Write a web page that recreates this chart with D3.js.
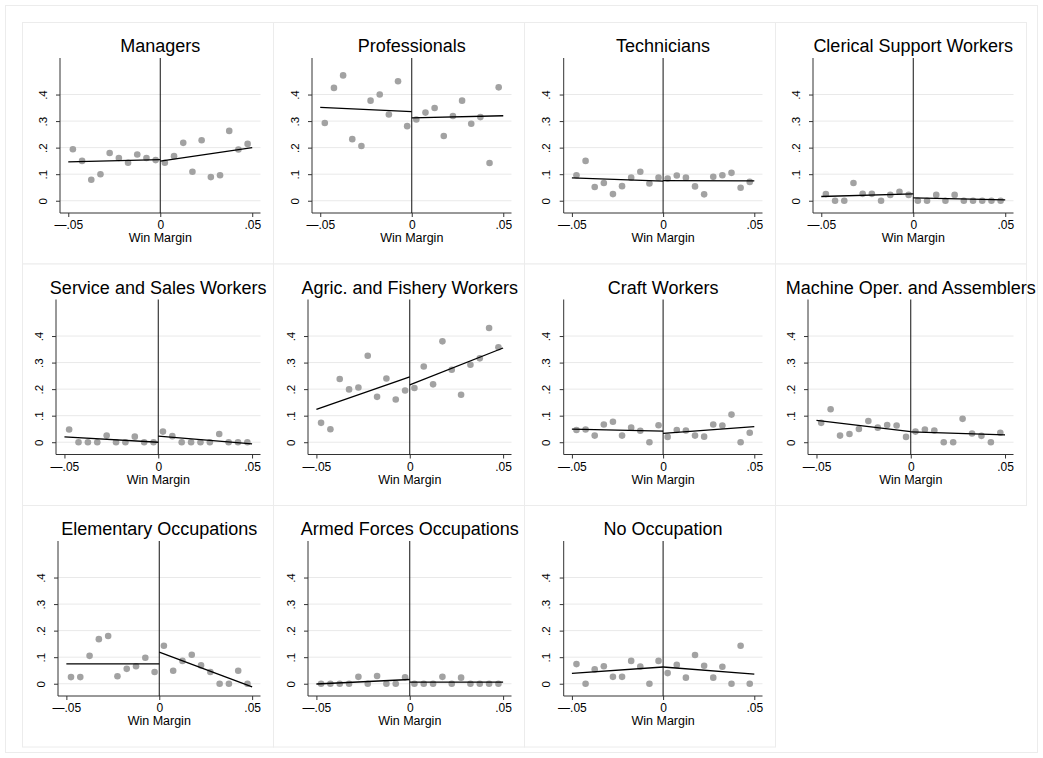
<!DOCTYPE html>
<html>
<head>
<meta charset="utf-8">
<script src="https://d3js.org/d3.v7.min.js"></script>
<style>
  body { margin: 0; background: #fff; }
  text { font-family: "Liberation Sans", Arial, sans-serif; fill: #000; }
</style>
</head>
<body>
<svg id="chart"></svg>
<script>
// bin centres of the win margin (same for every panel)
var bins = [-0.0475,-0.0425,-0.0375,-0.0325,-0.0275,-0.0225,-0.0175,-0.0125,-0.0075,-0.0025,
            0.0025,0.0075,0.0125,0.0175,0.0225,0.0275,0.0325,0.0375,0.0425,0.0475];

var titles = ["Managers","Professionals","Technicians","Clerical Support Workers",
              "Service and Sales Workers","Agric. and Fishery Workers","Craft Workers","Machine Oper. and Assemblers",
              "Elementary Occupations","Armed Forces Occupations","No Occupation"];

// binned means, one list per occupation
var managers      = [0.194,0.150,0.079,0.100,0.180,0.161,0.143,0.174,0.161,0.153, 0.143,0.168,0.218,0.109,0.228,0.089,0.096,0.263,0.193,0.214];
var professionals = [0.293,0.425,0.472,0.232,0.206,0.377,0.400,0.325,0.450,0.281, 0.306,0.332,0.349,0.244,0.319,0.377,0.290,0.315,0.142,0.427];
var technicians   = [0.096,0.150,0.052,0.067,0.025,0.055,0.087,0.109,0.065,0.087, 0.084,0.095,0.087,0.054,0.024,0.090,0.096,0.105,0.049,0.071];
var clerical      = [0.025,0,0,0.067,0.026,0.026,0,0.022,0.034,0.022, 0,0,0.022,0,0.022,0,0,0,0,0];
var service       = [0.048,0,0,0,0.025,0,0,0.021,0,0, 0.040,0.023,0,0,0,0,0.031,0,0,0];
var agric         = [0.073,0.049,0.238,0.199,0.206,0.326,0.171,0.240,0.161,0.195, 0.204,0.285,0.218,0.380,0.273,0.179,0.292,0.316,0.430,0.358];
var craft         = [0.046,0.048,0.025,0.067,0.077,0.025,0.055,0.043,0,0.064, 0.020,0.046,0.044,0.025,0.021,0.067,0.063,0.104,0,0.036];
var machine       = [0.073,0.124,0.025,0.031,0.050,0.080,0.055,0.065,0.063,0.020, 0.040,0.048,0.044,0,0,0.088,0.033,0.024,0,0.036];
var elementary    = [0.025,0.025,0.105,0.168,0.180,0.028,0.056,0.066,0.098,0.044, 0.143,0.049,0.086,0.109,0.069,0.044,0,0,0.049,0];
var armed         = [0,0,0,0,0.026,0,0.029,0,0,0.024, 0,0,0,0.026,0,0.023,0,0,0,0];
var noOcc         = [0.074,0,0.054,0.066,0.026,0.026,0.086,0.065,0,0.086, 0.040,0.071,0.023,0.108,0.068,0.023,0.064,0,0.143,0];
var series = [managers,professionals,technicians,clerical,service,agric,craft,machine,elementary,armed,noOcc];

// linear fits either side of the cutoff: [y at -.05, y at 0, y at 0 (right), y at .05]
var fits = [[0.146,0.155,0.149,0.200],[0.352,0.336,0.312,0.320],[0.086,0.074,0.076,0.075],[0.016,0.026,0.011,0.003],
            [0.020,0.000,0.023,-0.006],[0.124,0.246,0.216,0.355],[0.049,0.042,0.033,0.059],[0.082,0.040,0.039,0.028],
            [0.075,0.075,0.119,-0.012],[-0.001,0.016,0.006,0.006],[0.039,0.063,0.063,0.036]];

var xTicks = [-0.05, 0, 0.05];
var xTickLabels = ["\u2014.05", "0", ".05"];
var yTicks = [0, 0.1, 0.2, 0.3, 0.4];
var yTickLabels = ["0", ".1", ".2", ".3", ".4"];

// layout
var W = 1043, H = 758;
var cellW = 251, cellH = 241.5, originX = 22, originY = 22;
var plotLeft = [38,39,39.7,38,34,35,39.7,33,36,35,39.7]; // y axis offset inside each cell
var plotRight = 238.5, plotTop = 36, plotBottom = 191;

var svg = d3.select("#chart").attr("width", W).attr("height", H);
svg.append("rect").attr("x", 0).attr("y", 0).attr("width", W).attr("height", H).attr("fill", "#fff");
svg.append("rect").attr("x", 5.5).attr("y", 5.5).attr("width", 1032).attr("height", 747)
   .attr("fill", "#fff").attr("stroke", "#ececec");

titles.forEach(function(title, i){
    var col = i % 4, row = Math.floor(i / 4);
    var cx = originX + col * cellW, cy = originY + row * cellH;
    var g = svg.append("g").attr("transform", "translate(" + cx + "," + cy + ")");

    g.append("rect").attr("x", 0.5).attr("y", 0.5).attr("width", cellW).attr("height", cellH)
     .attr("fill", "#fff").attr("stroke", "#ececec");

    var x = d3.scaleLinear().domain([-0.0545, 0.0545]).range([plotLeft[i], plotRight]);
    var y = d3.scaleLinear().domain([-0.0462, 0.5376]).range([plotBottom, plotTop]);

    // grid
    g.selectAll(".grid").data(yTicks).enter().append("line")
     .attr("x1", plotLeft[i]).attr("x2", plotRight)
     .attr("y1", function(d){ return y(d); }).attr("y2", function(d){ return y(d); })
     .attr("stroke", "#e9e9e9").attr("stroke-width", 1);

    // axes
    var yAxis = d3.axisLeft(y).tickValues(yTicks).tickSize(4).tickFormat(function(d, k){ return yTickLabels[k]; });
    var ya = g.append("g").attr("transform", "translate(" + plotLeft[i] + ",0)").call(yAxis);
    ya.select(".domain").attr("d", "M0," + plotTop + "V" + plotBottom).attr("stroke", "#333");
    ya.selectAll(".tick line").attr("stroke", "#333");
    ya.selectAll(".tick text").attr("x", null).attr("dy", null)
      .attr("transform", "translate(-13.5,0) rotate(-90)")
      .attr("text-anchor", "middle").style("font-size", "11.5px")
      .style("font-family", "Liberation Sans, Arial, sans-serif").attr("fill", "#000");

    var xAxis = d3.axisBottom(x).tickValues(xTicks).tickSize(4).tickFormat(function(d, k){ return xTickLabels[k]; });
    var xa = g.append("g").attr("transform", "translate(0," + plotBottom + ")").call(xAxis);
    xa.select(".domain").attr("d", "M" + plotLeft[i] + ",0H" + plotRight).attr("stroke", "#333");
    xa.selectAll(".tick line").attr("stroke", "#333");
    xa.selectAll(".tick text").attr("y", 16).attr("dy", null)
      .style("font-size", "12px").style("font-family", "Liberation Sans, Arial, sans-serif").attr("fill", "#000");

    g.append("text").attr("x", x(0)).attr("y", 220).attr("text-anchor", "middle")
     .style("font-size", "12.5px").text("Win Margin");

    // cutoff line
    g.append("line").attr("x1", x(0)).attr("x2", x(0)).attr("y1", plotTop).attr("y2", plotBottom)
     .attr("stroke", "#111").attr("stroke-width", 1);

    // binned means
    g.selectAll(".dot").data(series[i]).enter().append("circle")
     .attr("cx", function(d, k){ return x(bins[k]); })
     .attr("cy", function(d){ return y(d); })
     .attr("r", 3.3).attr("fill", "#a2a2a2");

    // fitted lines
    var f = fits[i];
    var line = d3.line().x(function(d){ return x(d[0]); }).y(function(d){ return y(d[1]); });
    [[[-0.05, f[0]], [0, f[1]]], [[0, f[2]], [0.05, f[3]]]].forEach(function(seg){
        g.append("path").attr("d", line(seg)).attr("fill", "none")
         .attr("stroke", "#000").attr("stroke-width", 1.3);
    });

    g.append("text").attr("x", (plotLeft[i] + plotRight) / 2).attr("y", 30)
     .attr("text-anchor", "middle").style("font-size", "18px").text(title);
});
</script>
</body>
</html>
